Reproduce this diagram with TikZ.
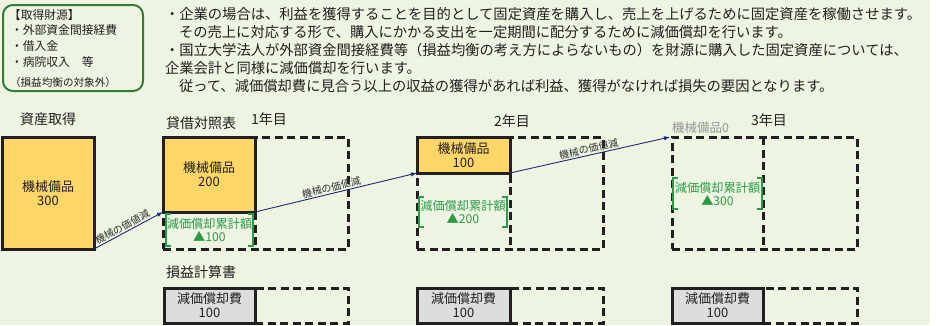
\documentclass[tikz,border=0pt]{standalone}
\usepackage{fontspec}
\setmainfont{Noto Sans CJK JP}
\usetikzlibrary{arrows.meta}
\definecolor{bggreen}{RGB}{238,244,226}
\definecolor{boxgreen}{RGB}{52,122,60}
\definecolor{inkblack}{RGB}{35,31,32}
\definecolor{yellowfill}{RGB}{253,214,104}
\definecolor{grayfill}{RGB}{220,221,223}
\definecolor{textgreen}{RGB}{42,154,72}
\definecolor{navyline}{RGB}{30,42,120}
\definecolor{faintgray}{RGB}{150,150,150}
\definecolor{labelgray}{RGB}{50,50,50}
\begin{document}
\begin{tikzpicture}[x=1pt,y=-1pt,
  every node/.style={inner sep=0pt, outer sep=0pt, text=inkblack},
  bodytext/.style={anchor=west, font=\fontsize{14.3}{16}\selectfont},
  srctext/.style={anchor=west, font=\fontsize{11.8}{13}\selectfont},
  heading/.style={anchor=west, font=\fontsize{14}{16}\selectfont},
  solidbox/.style={draw=inkblack, line width=3pt, anchor=north west, align=center,
    font=\fontsize{13}{14}\selectfont},
  yellowbox/.style={solidbox, fill=yellowfill},
  graybox/.style={solidbox, fill=grayfill},
  dashbox/.style={draw=inkblack, line width=3pt, dash pattern=on 8pt off 4.5pt, anchor=north west},
  dashline/.style={draw=inkblack, line width=3pt, dash pattern=on 8pt off 4.5pt},
  greenbox/.style={anchor=north west, align=center, text=textgreen,
    font=\fontsize{12.2}{13}\selectfont},
  greenline/.style={draw=textgreen, line width=1.1pt},
  valuearrow/.style={draw=navyline, line width=0.9pt, -{Latex[length=6pt,width=4.5pt]}},
  arrowlabel/.style={sloped, above=1.5pt, text=labelgray, font=\fontsize{10}{10}\selectfont}
]
\useasboundingbox (0,0) rectangle (942,325);
\fill[white] (0,0) rectangle (942,325);
\fill[bggreen] (0,0) rectangle (930,325);

% source box
\node[draw=boxgreen, line width=2pt, rounded corners=10pt, minimum width=140pt,
  minimum height=86pt, anchor=north west] (src) at (3,5) {};
\node[srctext] (s1) at (9,15) {【取得財源】};
\node[srctext] (s2) at (11,30) {・外部資金間接経費};
\node[srctext] (s3) at (11,46) {・借入金};
\node[srctext] (s4) at (11,62) {・病院収入　等};
\node[srctext, font=\fontsize{10.6}{12}\selectfont] (s5) at (10,82) {（損益均衡の対象外）};

% body text
\node[bodytext] (t1) at (165,14.5) {・企業の場合は、利益を獲得することを目的として固定資産を購入し、売上を上げるために固定資産を稼働させます。};
\node[bodytext] (t2) at (179,32.5) {その売上に対応する形で、購入にかかる支出を一定期間に配分するために減価償却を行います。};
\node[bodytext] (t3) at (165,50.5) {・国立大学法人が外部資金間接経費等（損益均衡の考え方によらないもの）を財源に購入した固定資産については、};
\node[bodytext] (t4) at (165,68.5) {企業会計と同様に減価償却を行います。};
\node[bodytext] (t5) at (179,86.5) {従って、減価償却費に見合う以上の収益の獲得があれば利益、獲得がなければ損失の要因となります。};

% headings
\node[heading] (hacq) at (20,119) {資産取得};
\node[heading] (hbs) at (166,123) {貸借対照表};
\node[heading] (hy1) at (251,119) {1年目};
\node[heading] (hy2) at (494,121) {2年目};
\node[heading] (hy3) at (751,120) {3年目};
\node[heading] (hpl) at (166,272) {損益計算書};
\node[anchor=west, text=faintgray, font=\fontsize{12.5}{14}\selectfont] (zero) at (672,128) {機械備品0};

% balance sheet dashed frames
\node[dashbox, minimum width=185pt, minimum height=112pt] (y1d) at (163,137) {};
\node[dashbox, minimum width=186pt, minimum height=112pt] (y2d) at (417,137) {};
\node[dashbox, minimum width=185pt, minimum height=112pt] (y3d) at (672,137) {};
\draw[dashline] (255,137) -- (255,249);
\draw[dashline] (510,137) -- (510,249);
\draw[dashline] (763,137) -- (763,249);

% P/L dashed frames
\node[dashbox, minimum width=93pt, minimum height=35pt] (p1d) at (255,288) {};
\node[dashbox, minimum width=93pt, minimum height=35pt] (p2d) at (510,288) {};
\node[dashbox, minimum width=94pt, minimum height=35pt] (p3d) at (763,288) {};

% solid boxes
\node[yellowbox, minimum width=92pt, minimum height=112pt] (big) at (2,137) {機械備品\\300};
\node[yellowbox, minimum width=92pt, minimum height=75pt] (y1y) at (163,137) {機械備品\\200};
\node[yellowbox, minimum width=93pt, minimum height=36pt] (y2y) at (417,137) {機械備品\\100};
\node[graybox, minimum width=91pt, minimum height=35pt] (p1) at (164,288) {減価償却費\\100};
\node[graybox, minimum width=93pt, minimum height=35pt] (p2) at (417,288) {減価償却費\\100};
\node[graybox, minimum width=91pt, minimum height=35pt] (p3) at (672,288) {減価償却費\\100};

% accumulated depreciation
\node[greenbox, minimum width=87pt, minimum height=32pt] (g1) at (166,214) {減価償却累計額\\▲100};
\node[greenbox, minimum width=88pt, minimum height=30pt] (g2) at (419,197) {減価償却累計額\\▲200};
\node[greenbox, minimum width=89pt, minimum height=31pt] (g3) at (673,178) {減価償却累計額\\▲300};
\foreach \g in {g1,g2,g3}{
  \draw[greenline] ([xshift=5pt]\g.north west) -- (\g.north west) -- (\g.south west) -- ([xshift=5pt]\g.south west);
  \draw[greenline] ([xshift=-5pt]\g.north east) -- (\g.north east) -- (\g.south east) -- ([xshift=-5pt]\g.south east);
}

% value decrease arrows
\draw[valuearrow] (big.south east) -- node[arrowlabel, pos=0.45] {機械の価値減} (y1y.south west);
\draw[valuearrow] (y1y.south east) -- node[arrowlabel, pos=0.48] {機械の価値減} (y2y.south west);
\draw[valuearrow] (y2y.south east) -- node[arrowlabel, pos=0.5] {機械の価値減} ([xshift=-2pt]y3d.north west);
\end{tikzpicture}
\end{document}
